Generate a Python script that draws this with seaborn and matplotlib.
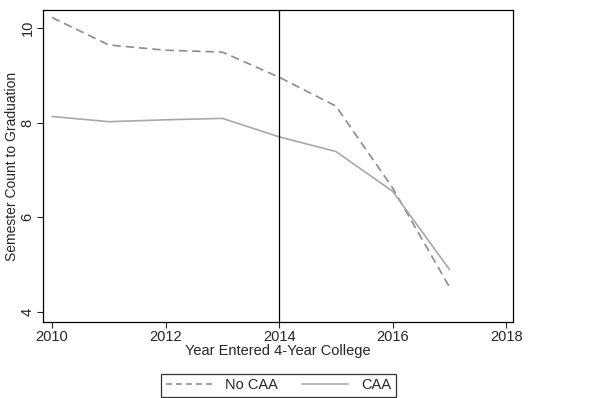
import pandas as pd
import matplotlib.pyplot as plt
import seaborn as sns

# values
years = [2010, 2011, 2012, 2013, 2014, 2015, 2016, 2017]
no_caa = [10.22, 9.64, 9.53, 9.49, 8.96, 8.35, 6.62, 4.53]
caa = [8.13, 8.02, 8.06, 8.09, 7.70, 7.39, 6.55, 4.90]
groups = ['No CAA', 'CAA']

df = pd.DataFrame({
    'year': years * 2,
    'count': no_caa + caa,
    'group': [groups[0]] * len(years) + [groups[1]] * len(years),
})

sns.set_style('ticks')
plt.rcParams['font.family'] = ['Liberation Sans', 'DejaVu Sans']

fig = plt.figure(figsize=(6.16, 3.98), dpi=100)
ax = fig.add_axes([0.0698, 0.191, 0.763, 0.784])

sns.lineplot(data=df, x='year', y='count', hue='group', style='group',
             palette={'No CAA': '#8c8c8c', 'CAA': '#a8a8a8'},
             dashes={'No CAA': (5, 3), 'CAA': ''},
             linewidth=1.2, ax=ax, legend=False)

ax.axvline(2014, color='black', linewidth=0.9)

ax.set_xlim(2009.84, 2018.12)
ax.set_ylim(3.79, 10.38)
ax.set_xticks([2010, 2012, 2014, 2016, 2018])
ax.set_yticks([4, 6, 8, 10])
ax.tick_params(axis='y', labelrotation=90, labelsize=10.5, length=4, width=0.8, pad=2)
ax.tick_params(axis='x', labelsize=10.5, length=4, width=0.8, pad=2)
for lab in ax.get_yticklabels():
    lab.set_va('center')
for s in ax.spines.values():
    s.set_linewidth(0.9)
    s.set_color('black')

ax.set_xlabel('Year Entered 4-Year College', fontsize=10.5, labelpad=0)
ax.set_ylabel('Semester Count to Graduation', fontsize=10, labelpad=1)

handles = [plt.Line2D([], [], color='#8c8c8c', linestyle=(0, (3.5, 2.5)), linewidth=1.2),
           plt.Line2D([], [], color='#a8a8a8', linewidth=1.2)]
leg = fig.legend(handles, groups, loc='lower center', bbox_to_anchor=(0.452, 0.0),
                 ncol=2, frameon=True, fancybox=False, fontsize=10.5,
                 handlelength=3.2, handletextpad=0.9, columnspacing=1.6,
                 borderpad=0.3, borderaxespad=0.1, edgecolor='black')
leg.get_frame().set_linewidth(0.9)

fig.savefig('out.png', dpi=100)
